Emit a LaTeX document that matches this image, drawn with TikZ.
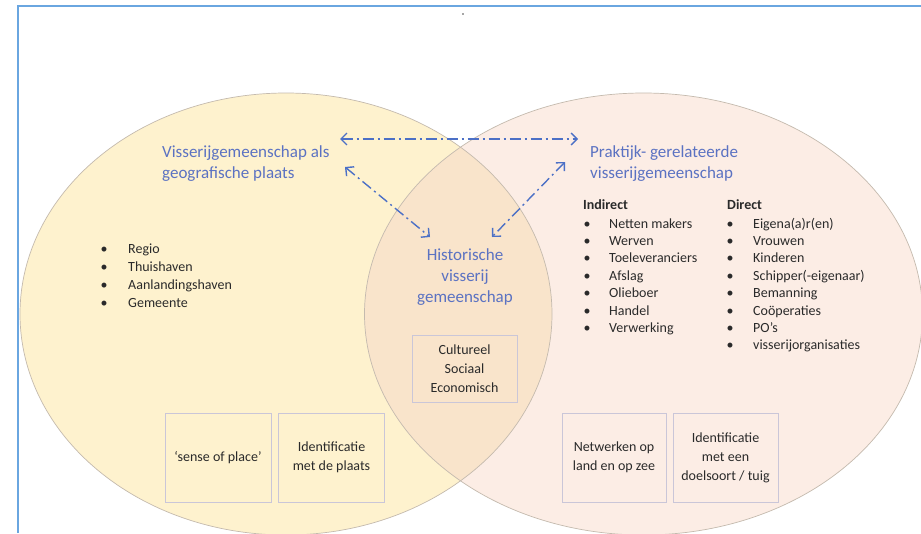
\documentclass[tikz,border=0pt]{standalone}
\usepackage{fontspec}
\setmainfont{Carlito}
\usetikzlibrary{arrows.meta}
\definecolor{leftfill}{HTML}{FEF2CE}
\definecolor{rightfill}{HTML}{FCEDE5}
\definecolor{overlapfill}{HTML}{F9E4CB}
\definecolor{ellline}{HTML}{C4BAAE}
\definecolor{frameblue}{HTML}{6AA6E0}
\definecolor{titleblue}{HTML}{5B72C2}
\definecolor{arrowblue}{HTML}{4C70C6}
\definecolor{boxline}{HTML}{CAC6D8}
\definecolor{textgrey}{HTML}{2A2A2A}
\begin{document}
\begin{tikzpicture}[x=1pt,y=-1pt,
  title/.style={text=titleblue, font=\fontsize{17}{21}\selectfont, inner sep=0pt},
  listitem/.style={font=\fontsize{14}{17}\selectfont, text=textgrey, inner sep=0pt, anchor=base west},
  bul/.style={font=\fontsize{14}{17}\selectfont, text=textgrey, inner sep=0pt, anchor=base},
  head/.style={font=\fontsize{14}{17}\selectfont\bfseries, text=textgrey, inner sep=0pt, anchor=base west},
  infobox/.style={draw=boxline, line width=0.8pt, minimum width=106pt, minimum height=89pt,
    align=center, font=\fontsize{14}{19}\selectfont, text=textgrey, inner sep=0pt},
  link/.style={draw=arrowblue, line width=1.4pt, dash pattern=on 11pt off 4pt on 2pt off 4pt,
    {Straight Barb[length=6pt,width=12pt]}-{Straight Barb[length=6pt,width=12pt]}}
]
\useasboundingbox (0,0) rectangle (921,533);
\fill[white] (0,0) rectangle (921,533);

% ellipses
\fill[leftfill] (286,314) ellipse [x radius=266pt, y radius=221pt];
\fill[rightfill] (643.5,314) ellipse [x radius=279pt, y radius=221pt];
\begin{scope}
  \clip (286,314) ellipse [x radius=266pt, y radius=221pt];
  \fill[overlapfill] (643.5,314) ellipse [x radius=279pt, y radius=221pt];
\end{scope}
\draw[ellline, line width=0.7pt] (286,314) ellipse [x radius=266pt, y radius=221pt];
\draw[ellline, line width=0.7pt] (643.5,314) ellipse [x radius=279pt, y radius=221pt];

% frame
\draw[frameblue, line width=2pt] (18,533) -- (18,6) -- (921,6);
\fill[black!70] (463,14) circle (0.8pt);

% titles
\node[title, anchor=west, align=left] (geo) at (162,163.5)
  {Visserijgemeenschap als\\geografische plaats};
\node[title, anchor=west, align=left] (prak) at (590,164)
  {Praktijk- gerelateerde\\visserijgemeenschap};
\node[title, align=center] (hist) at (465,277.5)
  {Historische\\visserij\\gemeenschap};

% left list
\foreach \t [count=\i] in {Regio,Thuishaven,Aanlandingshaven,Gemeente}{
  \node[bul] (lb\i) at (104,235+18*\i) {•};
  \node[listitem] (lt\i) at (128,235+18*\i) {\t};
}

% indirect / direct
\node[head] (ind) at (583,209) {Indirect};
\node[head] (dir) at (727,209) {Direct};
\foreach \t [count=\i] in {Netten makers,Werven,Toeleveranciers,Afslag,Olieboer,Handel,Verwerking}{
  \node[bul] (ib\i) at (587,210.6+17.4*\i) {•};
  \node[listitem] (it\i) at (609,210.6+17.4*\i) {\t};
}
\foreach \t [count=\i] in {Eigena(a)r(en),Vrouwen,Kinderen,Schipper(-eigenaar),Bemanning,Coöperaties,PO’s,visserijorganisaties}{
  \node[bul] (db\i) at (730,210.6+17.4*\i) {•};
  \node[listitem] (dt\i) at (753,210.6+17.4*\i) {\t};
}

% boxes
\node[infobox, minimum width=105pt, minimum height=67pt] (cult) at (464.5,368.5)
  {Cultureel\\Sociaal\\Economisch};
\node[infobox] (sense) at (218,457.5) {‘sense of place’};
\node[infobox] (idplaats) at (331.5,457.5) {Identificatie\\met de plaats};
\node[infobox, minimum width=104pt] (netw) at (614,457.5) {Netwerken op\\land en op zee};
\node[infobox, minimum width=105pt] (iddoel) at (725.5,457.5) {Identificatie\\met een\\doelsoort / tuig};

% arrows
\coordinate (h1) at (340,139);
\coordinate (h2) at (578,139);
\coordinate (g1) at (345,167);
\coordinate (g2) at (430,237);
\coordinate (p1) at (565,162);
\coordinate (p2) at (492,237);
\draw[link] (h1) -- (h2);
\draw[link] (g1) -- (g2);
\draw[link] (p1) -- (p2);
\end{tikzpicture}
\end{document}
